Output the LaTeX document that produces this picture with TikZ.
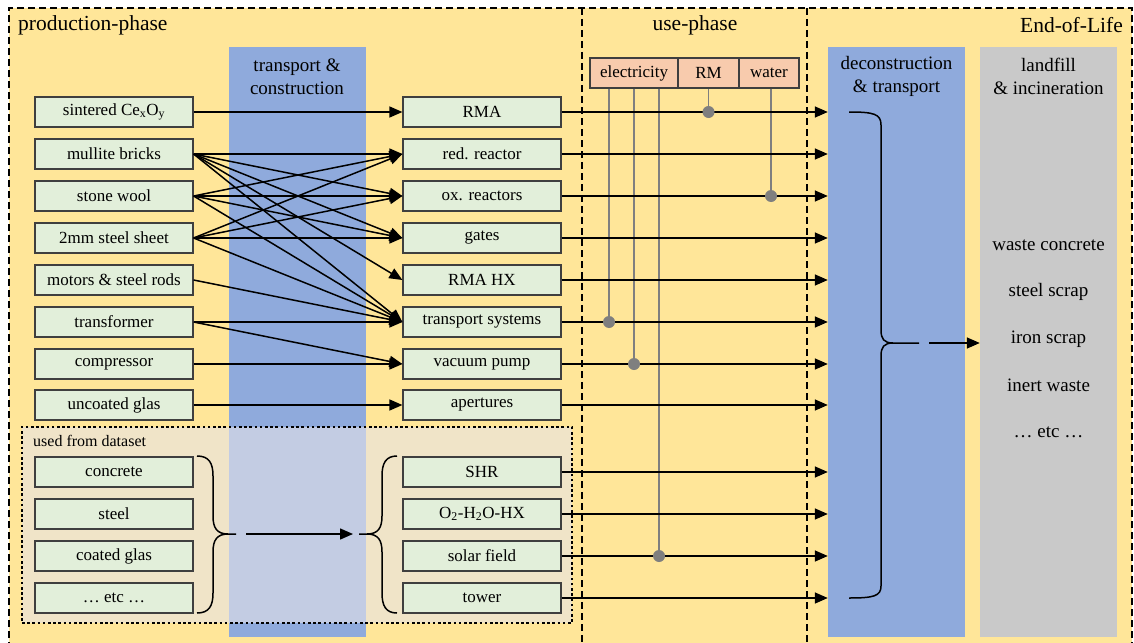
\documentclass[tikz,border=0pt]{standalone}
\usepackage{fontspec}
\setmainfont{Liberation Serif}
\usetikzlibrary{arrows.meta}

\definecolor{phaseyellow}{HTML}{FFE699}
\definecolor{colblue}{HTML}{8FAADC}
\definecolor{colgray}{HTML}{C9C9C9}
\definecolor{boxgreen}{HTML}{E2EFDA}
\definecolor{boxedge}{HTML}{3F3F3F}
\definecolor{feedfill}{HTML}{F8CBAD}
\definecolor{feedline}{HTML}{7F7F7F}
\definecolor{dsveil}{RGB}{230,227,232}

\begin{document}
\begin{tikzpicture}[x=1pt,y=-1pt,
  matbox/.style={draw=boxedge, fill=boxgreen, line width=1.2pt, minimum width=158pt,
    minimum height=30pt, inner sep=0pt, font=\fontsize{17}{20}\selectfont},
  column/.style={minimum width=137pt, minimum height=590pt, inner sep=0pt, draw=none},
  colhead/.style={align=center, font=\fontsize{19}{23}\selectfont, inner sep=0pt},
  phasetitle/.style={font=\fontsize{21.5}{24}\selectfont, inner sep=0pt},
  flow/.style={line width=1.5pt, -{Triangle[length=13pt,width=11pt]}},
  feed/.style={draw=feedline, line width=1.6pt},
  feedbox/.style={draw=boxedge, fill=feedfill, line width=1.2pt, minimum height=30pt,
    inner sep=0pt, font=\fontsize{17}{20}\selectfont},
  tap/.style={circle, fill=feedline, minimum size=12pt, inner sep=0pt},
  phaseline/.style={line width=1.2pt, dash pattern=on 7pt off 4pt},
  bracket/.style={line width=1.5pt},
  waste/.style={font=\fontsize{19}{22}\selectfont, inner sep=0pt},
]
\useasboundingbox (0,0) rectangle (1134,642);

% phase background and borders
\fill[phaseyellow] (9,8) rectangle (1132,660);
\draw[phaseline] (9,660) -- (9,8) -- (1132,8) -- (1132,660);
\draw[phaseline] (582,8) -- (582,660);
\draw[phaseline] (807,8) -- (807,660);

\node[phasetitle, anchor=west] (prodtitle) at (18,25) {production-phase};
\node[phasetitle] (usetitle) at (695,25) {use-phase};
\node[phasetitle, anchor=east] (eoltitle) at (1123,25) {End-of-Life};

% process columns
\node[column, fill=colblue] (transcol) at (297,342) {};
\node[column, fill=colblue] (decon) at (896.5,342) {};
\node[column, fill=colgray] (landfill) at (1048.5,342) {};
\node[colhead] (transhead) at (297,76.5) {transport \&\\construction};
\node[colhead] (deconhead) at (896.5,76.5) {deconstruction\\\& transport};
\node[colhead] (landhead) at (1048.5,76.5) {landfill\\\& incineration};

% background dataset group
\node[draw, line width=2.6pt, dash pattern=on 2.6pt off 2.6pt, fill=dsveil, fill opacity=0.6,
  minimum width=550pt, minimum height=196pt, inner sep=0pt] (dataset) at (297,525) {};
\node[anchor=west, inner sep=0pt, font=\fontsize{16}{18}\selectfont] (dslabel) at (33,441) {used from dataset};

% materials
\node[matbox] (cexoy)  at (114,112) {sintered Ce\textsubscript{x}O\textsubscript{y}};
\node[matbox] (mul)    at (114,154) {mullite bricks};
\node[matbox] (stone)  at (114,196) {stone wool};
\node[matbox] (sheet)  at (114,238) {2mm steel sheet};
\node[matbox] (motors) at (114,280) {motors \& steel rods};
\node[matbox] (trafo)  at (114,322) {transformer};
\node[matbox] (comp)   at (114,364) {compressor};
\node[matbox] (glas)   at (114,405) {uncoated glas};
\node[matbox] (concr)  at (114,472) {concrete};
\node[matbox] (steel)  at (114,514) {steel};
\node[matbox] (cglas)  at (114,556) {coated glas};
\node[matbox] (etcl)   at (114,598) {… etc …};

% components
\node[matbox] (rma)   at (482,112) {RMA};
\node[matbox] (red)   at (482,154) {red. reactor};
\node[matbox] (ox)    at (482,196) {ox. reactors};
\node[matbox] (gates) at (482,238) {gates};
\node[matbox] (hx)    at (482,280) {RMA HX};
\node[matbox] (ts)    at (482,322) {transport systems};
\node[matbox] (vac)   at (482,364) {vacuum pump};
\node[matbox] (apt)   at (482,405) {apertures};
\node[matbox] (shr)   at (482,472) {SHR};
\node[matbox] (ohx)   at (482,514) {O\textsubscript{2}-H\textsubscript{2}O-HX};
\node[matbox] (solar) at (482,556) {solar field};
\node[matbox] (tower) at (482,598) {tower};

% use-phase supplies
\node[feedbox, minimum width=88pt] (elec)  at (634,73) {electricity};
\node[feedbox, minimum width=61pt] (rm)    at (708.5,73) {RM};
\node[feedbox, minimum width=60pt] (water) at (769,73) {water};

\coordinate (e1) at ([xshift=-25pt]elec.south);
\coordinate (e2) at (elec.south);
\coordinate (e3) at ([xshift=25pt]elec.south);
\coordinate (w1) at ([xshift=2pt]water.south);

\draw[feed] (e1) -- (e1 |- ts.east);
\draw[feed] (e2) -- (e2 |- vac.east);
\draw[feed] (e3) -- (e3 |- solar.east);
\draw[feed] (rm.south) -- (rm.south |- rma.east);
\draw[feed] (w1) -- (w1 |- ox.east);

% material flows into components
\foreach \a/\b in {cexoy/rma, mul/red, mul/ox, mul/gates, mul/hx, mul/ts,
                   stone/red, stone/ox, stone/gates, stone/ts,
                   sheet/red, sheet/ox, sheet/gates, sheet/ts,
                   motors/ts, trafo/ts, trafo/vac, comp/vac, glas/apt}
  \draw[flow] (\a.east) -- (\b.west);

% components to end-of-life
\foreach \n in {rma, red, ox, gates, hx, ts, vac, apt, shr, ohx, solar, tower}
  \draw[flow] (\n.east) -- (\n.east -| decon.west);

% supply taps
\node[tap] (t1) at (e1 |- ts.east) {};
\node[tap] (t2) at (e2 |- vac.east) {};
\node[tap] (t3) at (e3 |- solar.east) {};
\node[tap] (t4) at (rm.south |- rma.east) {};
\node[tap] (t5) at (w1 |- ox.east) {};

% dataset braces
\coordinate (lbtip) at (236,534);
\coordinate (rbtip) at (359,534);
\draw[bracket] (197,456) .. controls (209,456) and (213,463) .. (213,476) -- (213,516)
  .. controls (213,528) and (217,534) .. (228,534) -- (lbtip);
\draw[bracket] (228,534) .. controls (217,534) and (213,540) .. (213,552) -- (213,593)
  .. controls (213,606) and (209,613) .. (197,613);
\draw[bracket] (397,456) .. controls (386,456) and (382,463) .. (382,476) -- (382,516)
  .. controls (382,528) and (378,534) .. (367,534) -- (rbtip);
\draw[bracket] (367,534) .. controls (378,534) and (382,540) .. (382,552) -- (382,593)
  .. controls (382,606) and (386,613) .. (397,613);
\draw[flow] ([xshift=10pt]lbtip) -- ([xshift=-6pt]rbtip);

% end-of-life brace
\coordinate (btip) at (919,343);
\draw[bracket] (849,112) .. controls (874,112) and (881,114) .. (881,125) -- (881,330)
  .. controls (881,339) and (884,343) .. (893,343) -- (btip);
\draw[bracket] (893,343) .. controls (884,343) and (881,347) .. (881,356) -- (881,586)
  .. controls (881,596) and (874,598) .. (849,598);
\draw[flow] ([xshift=10pt]btip) -- (btip -| landfill.west);

% waste streams
\node[waste] (w-concrete) at (1048.5,245) {waste concrete};
\node[waste] (w-steel)    at (1048.5,292) {steel scrap};
\node[waste] (w-iron)     at (1048.5,339) {iron scrap};
\node[waste] (w-inert)    at (1048.5,385) {inert waste};
\node[waste] (w-etc)      at (1048.5,432) {… etc …};
\end{tikzpicture}
\end{document}
